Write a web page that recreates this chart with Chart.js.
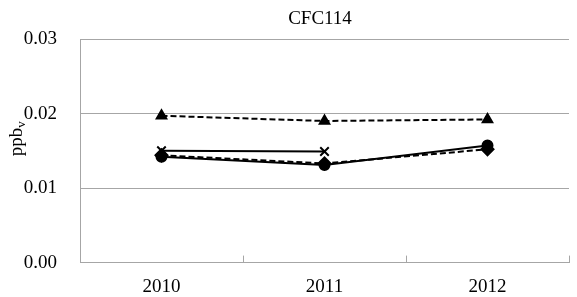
<!DOCTYPE html>
<html>
<head>
<meta charset="utf-8">
<script src="https://cdn.jsdelivr.net/npm/chart.js@4"></script>
<style>
  html, body { margin:0; padding:0; background:#fff; }
  #wrap { width:577px; height:297px; }
</style>
</head>
<body>
<div id="wrap"><canvas id="cfc" width="577" height="297"></canvas></div>
<script>
const years = ['2010','2011','2012'];
const seriesTri = [0.0197, 0.0190, 0.0192];
const seriesCross = [0.0150, 0.0149, null];
const seriesCircle = [0.0142, 0.0131, 0.0157];
const seriesDiamond = [0.0144, 0.0133, 0.0152];
const yTicks = [0, 0.01, 0.02, 0.03];

const serif = '"Liberation Serif", "Times New Roman", serif';
const gridCol = '#a6a6a6';

// title, y axis title with subscript, inward category ticks
const extras = {
  id:'extras',
  beforeDatasetsDraw(chart){
    const {ctx, chartArea, scales} = chart;
    const x = scales.x;
    const half = (x.getPixelForValue(1) - x.getPixelForValue(0)) / 2;
    ctx.save();
    ctx.strokeStyle = gridCol; ctx.lineWidth = 1;
    for(let i = 0; i < years.length; i++){
      const px = Math.round(x.getPixelForValue(i) + half) + 0.5;
      ctx.beginPath();
      ctx.moveTo(px, chartArea.bottom);
      ctx.lineTo(px, chartArea.bottom - 7);
      ctx.stroke();
    }
    ctx.restore();
  },
  afterDraw(chart){
    const {ctx} = chart;
    ctx.save();
    ctx.fillStyle = '#000';
    ctx.font = '19px ' + serif;
    ctx.textAlign = 'center'; ctx.textBaseline = 'middle';
    ctx.fillText('CFC114', 320, 19);

    ctx.translate(17, 138);
    ctx.rotate(-Math.PI/2);
    ctx.textAlign = 'left'; ctx.textBaseline = 'middle';
    ctx.font = '19px ' + serif;
    const w = ctx.measureText('ppb').width;
    const total = w + 8;
    ctx.fillText('ppb', -total/2, 0);
    ctx.font = '13px ' + serif;
    ctx.fillText('v', -total/2 + w, 5);
    ctx.restore();
  }
};

const lineBase = { borderColor:'#000', backgroundColor:'#000', pointBorderColor:'#000', pointBackgroundColor:'#000', borderWidth:2, fill:false, tension:0 };

new Chart(document.getElementById('cfc'), {
  type:'line',
  data:{
    labels: years,
    datasets:[
      { ...lineBase, label:'a', data:seriesTri, borderDash:[6,3], pointStyle:'triangle', pointRadius:5.5 },
      { ...lineBase, label:'b', data:seriesCross, pointStyle:'crossRot', pointRadius:6, pointBorderWidth:2 },
      { ...lineBase, label:'c', data:seriesDiamond, borderDash:[6,3], pointStyle:'rectRot', pointRadius:6 },
      { ...lineBase, label:'d', data:seriesCircle, pointStyle:'circle', pointRadius:5 }
    ]
  },
  options:{
    responsive:false, animation:false,
    layout:{ padding:{ top:39, right:5, left:0, bottom:0 } },
    plugins:{ legend:{ display:false }, tooltip:{ enabled:false }, title:{ display:false } },
    scales:{
      x:{
        offset:true,
        grid:{ display:true, drawOnChartArea:false, drawTicks:false, offset:true },
        border:{ color:gridCol, width:1 },
        ticks:{ color:'#000', font:{ family:serif, size:19 }, padding:13, maxRotation:0 },
        afterFit(s){ s.height = 34; }
      },
      y:{
        min:0, max:0.03,
        afterBuildTicks(s){ s.ticks = yTicks.map(v => ({ value:v })); },
        grid:{ color:gridCol, drawTicks:false, lineWidth:1 },
        border:{ color:gridCol, width:1 },
        ticks:{ color:'#000', font:{ family:serif, size:19 }, padding:23, callback:v => v.toFixed(2) },
        afterFit(s){ s.width = 80; }
      }
    }
  },
  plugins:[extras]
});
</script>
</body>
</html>
